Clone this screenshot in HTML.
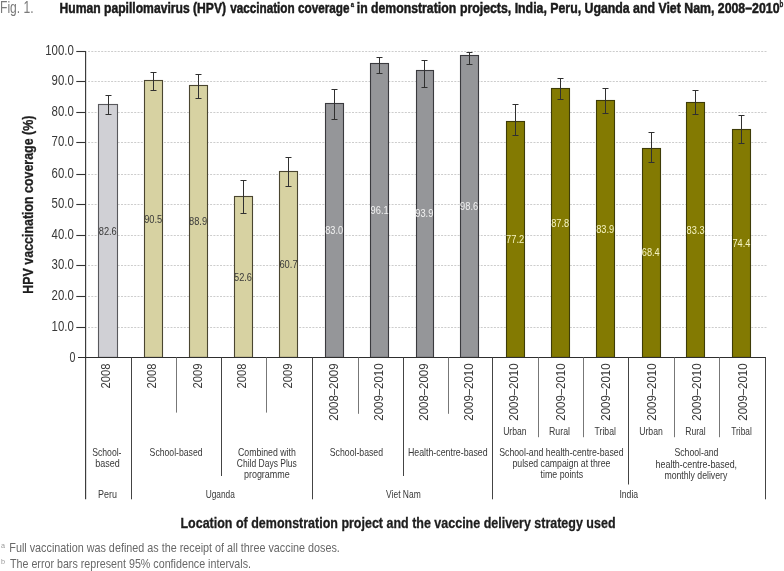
<!DOCTYPE html><html><head><meta charset="utf-8"><title>Fig. 1. HPV vaccination coverage</title><style>
html,body{margin:0;padding:0;background:#fff;width:784px;height:571px;overflow:hidden}
svg{display:block;will-change:transform}
text{font-family:'Liberation Sans', Arial, sans-serif}
</style></head><body>
<svg width="784" height="571" viewBox="0 0 784 571">
<rect width="784" height="571" fill="#fff"/>
<text x="0" y="12.5" font-size="16" fill="#7a7a7a" textLength="33.6" lengthAdjust="spacingAndGlyphs">Fig. 1.</text>
<text x="59.49" y="12.60" font-size="15.2" font-weight="bold" fill="#1a1a1a" stroke="#1a1a1a" stroke-width="0.5" textLength="166.62" lengthAdjust="spacingAndGlyphs">Human papillomavirus (HPV)</text>
<text x="230.15" y="12.60" font-size="15.2" font-weight="bold" fill="#1a1a1a" stroke="#1a1a1a" stroke-width="0.5" textLength="119.35" lengthAdjust="spacingAndGlyphs">vaccination coverage</text>
<text x="356.74" y="12.60" font-size="15.2" font-weight="bold" fill="#1a1a1a" stroke="#1a1a1a" stroke-width="0.5" textLength="99.42" lengthAdjust="spacingAndGlyphs">in demonstration</text>
<text x="459.89" y="12.60" font-size="15.2" font-weight="bold" fill="#1a1a1a" stroke="#1a1a1a" stroke-width="0.5" textLength="319.62" lengthAdjust="spacingAndGlyphs">projects, India, Peru, Uganda and Viet Nam, 2008–2010</text>
<text x="350.7" y="6.7" font-size="7.6" font-weight="bold" fill="#1a1a1a" stroke="#1a1a1a" stroke-width="0.3" textLength="3.3" lengthAdjust="spacingAndGlyphs">a</text>
<text x="779.6" y="6.8" font-size="8.6" font-weight="bold" fill="#1a1a1a" stroke="#1a1a1a" stroke-width="0.3" textLength="3.8" lengthAdjust="spacingAndGlyphs">b</text>
<line x1="88" y1="327.50" x2="767.6" y2="327.50" stroke="#cdcdcd" stroke-width="1" stroke-dasharray="2 1.3"/>
<line x1="88" y1="296.50" x2="767.6" y2="296.50" stroke="#cdcdcd" stroke-width="1" stroke-dasharray="2 1.3"/>
<line x1="88" y1="265.50" x2="767.6" y2="265.50" stroke="#cdcdcd" stroke-width="1" stroke-dasharray="2 1.3"/>
<line x1="88" y1="235.50" x2="767.6" y2="235.50" stroke="#cdcdcd" stroke-width="1" stroke-dasharray="2 1.3"/>
<line x1="88" y1="204.50" x2="767.6" y2="204.50" stroke="#cdcdcd" stroke-width="1" stroke-dasharray="2 1.3"/>
<line x1="88" y1="174.50" x2="767.6" y2="174.50" stroke="#cdcdcd" stroke-width="1" stroke-dasharray="2 1.3"/>
<line x1="88" y1="142.50" x2="767.6" y2="142.50" stroke="#cdcdcd" stroke-width="1" stroke-dasharray="2 1.3"/>
<line x1="88" y1="112.50" x2="767.6" y2="112.50" stroke="#cdcdcd" stroke-width="1" stroke-dasharray="2 1.3"/>
<line x1="88" y1="81.50" x2="767.6" y2="81.50" stroke="#cdcdcd" stroke-width="1" stroke-dasharray="2 1.3"/>
<line x1="88" y1="51.50" x2="767.6" y2="51.50" stroke="#cdcdcd" stroke-width="1" stroke-dasharray="2 1.3"/>
<line x1="76.3" y1="327.50" x2="86" y2="327.50" stroke="#333" stroke-width="1.1"/>
<text x="73.8" y="330.60" font-size="13.8" fill="#383838" text-anchor="end" textLength="22.2" lengthAdjust="spacingAndGlyphs">10.0</text>
<line x1="76.3" y1="296.50" x2="86" y2="296.50" stroke="#333" stroke-width="1.1"/>
<text x="73.8" y="299.60" font-size="13.8" fill="#383838" text-anchor="end" textLength="22.2" lengthAdjust="spacingAndGlyphs">20.0</text>
<line x1="76.3" y1="265.50" x2="86" y2="265.50" stroke="#333" stroke-width="1.1"/>
<text x="73.8" y="268.60" font-size="13.8" fill="#383838" text-anchor="end" textLength="22.2" lengthAdjust="spacingAndGlyphs">30.0</text>
<line x1="76.3" y1="235.50" x2="86" y2="235.50" stroke="#333" stroke-width="1.1"/>
<text x="73.8" y="238.60" font-size="13.8" fill="#383838" text-anchor="end" textLength="22.2" lengthAdjust="spacingAndGlyphs">40.0</text>
<line x1="76.3" y1="204.50" x2="86" y2="204.50" stroke="#333" stroke-width="1.1"/>
<text x="73.8" y="207.60" font-size="13.8" fill="#383838" text-anchor="end" textLength="22.2" lengthAdjust="spacingAndGlyphs">50.0</text>
<line x1="76.3" y1="174.50" x2="86" y2="174.50" stroke="#333" stroke-width="1.1"/>
<text x="73.8" y="177.60" font-size="13.8" fill="#383838" text-anchor="end" textLength="22.2" lengthAdjust="spacingAndGlyphs">60.0</text>
<line x1="76.3" y1="142.50" x2="86" y2="142.50" stroke="#333" stroke-width="1.1"/>
<text x="73.8" y="145.60" font-size="13.8" fill="#383838" text-anchor="end" textLength="22.2" lengthAdjust="spacingAndGlyphs">70.0</text>
<line x1="76.3" y1="112.50" x2="86" y2="112.50" stroke="#333" stroke-width="1.1"/>
<text x="73.8" y="115.60" font-size="13.8" fill="#383838" text-anchor="end" textLength="22.2" lengthAdjust="spacingAndGlyphs">80.0</text>
<line x1="76.3" y1="81.50" x2="86" y2="81.50" stroke="#333" stroke-width="1.1"/>
<text x="73.8" y="84.60" font-size="13.8" fill="#383838" text-anchor="end" textLength="22.2" lengthAdjust="spacingAndGlyphs">90.0</text>
<line x1="76.3" y1="51.50" x2="86" y2="51.50" stroke="#333" stroke-width="1.1"/>
<text x="73.8" y="54.60" font-size="13.8" fill="#383838" text-anchor="end" textLength="28.6" lengthAdjust="spacingAndGlyphs">100.0</text>
<text x="75.3" y="362.3" font-size="14.2" fill="#383838" text-anchor="end" textLength="5.9" lengthAdjust="spacingAndGlyphs">0</text>
<line x1="85.6" y1="51" x2="85.6" y2="499.3" stroke="#383838" stroke-width="1.15"/>
<rect x="98.50" y="104.50" width="19.00" height="252.90" fill="#d0d0d5" stroke="#58585c" stroke-width="1.10"/>
<rect x="144.50" y="80.50" width="18.00" height="276.90" fill="#d7d2a2" stroke="#4a4530" stroke-width="1.10"/>
<rect x="189.50" y="85.50" width="18.00" height="271.90" fill="#d7d2a2" stroke="#4a4530" stroke-width="1.10"/>
<rect x="234.50" y="196.50" width="18.00" height="160.90" fill="#d7d2a2" stroke="#4a4530" stroke-width="1.10"/>
<rect x="279.50" y="171.50" width="18.00" height="185.90" fill="#d7d2a2" stroke="#4a4530" stroke-width="1.10"/>
<rect x="325.50" y="103.50" width="18.00" height="253.90" fill="#959699" stroke="#3a3a3e" stroke-width="1.10"/>
<rect x="370.50" y="63.50" width="18.00" height="293.90" fill="#959699" stroke="#3a3a3e" stroke-width="1.10"/>
<rect x="416.50" y="70.50" width="17.00" height="286.90" fill="#959699" stroke="#3a3a3e" stroke-width="1.10"/>
<rect x="460.50" y="55.50" width="18.00" height="301.90" fill="#959699" stroke="#3a3a3e" stroke-width="1.10"/>
<rect x="506.50" y="121.50" width="18.00" height="235.90" fill="#837a02" stroke="#3e3c08" stroke-width="1.10"/>
<rect x="551.50" y="88.50" width="18.00" height="268.90" fill="#837a02" stroke="#3e3c08" stroke-width="1.10"/>
<rect x="596.50" y="100.50" width="18.00" height="256.90" fill="#837a02" stroke="#3e3c08" stroke-width="1.10"/>
<rect x="642.50" y="148.50" width="18.00" height="208.90" fill="#837a02" stroke="#3e3c08" stroke-width="1.10"/>
<rect x="686.50" y="102.50" width="18.00" height="254.90" fill="#837a02" stroke="#3e3c08" stroke-width="1.10"/>
<rect x="732.50" y="129.50" width="18.00" height="227.90" fill="#837a02" stroke="#3e3c08" stroke-width="1.10"/>
<text x="98.75" y="234.72" font-size="11.2" fill="#3a3a3a" textLength="18.01" lengthAdjust="spacingAndGlyphs">82.6</text>
<text x="144.17" y="222.63" font-size="11.2" fill="#3a3a3a" textLength="18.02" lengthAdjust="spacingAndGlyphs">90.5</text>
<text x="189.05" y="225.08" font-size="11.2" fill="#3a3a3a" textLength="18.04" lengthAdjust="spacingAndGlyphs">88.9</text>
<text x="234.03" y="280.62" font-size="11.2" fill="#3a3a3a" textLength="17.98" lengthAdjust="spacingAndGlyphs">52.6</text>
<text x="279.43" y="268.23" font-size="11.2" fill="#3a3a3a" textLength="18.14" lengthAdjust="spacingAndGlyphs">60.7</text>
<text x="325.15" y="234.11" font-size="11.2" fill="#f2f2f2" textLength="17.96" lengthAdjust="spacingAndGlyphs">83.0</text>
<text x="370.56" y="214.07" font-size="11.2" fill="#f2f2f2" textLength="18.09" lengthAdjust="spacingAndGlyphs">96.1</text>
<text x="415.26" y="217.43" font-size="11.2" fill="#f2f2f2" textLength="18.08" lengthAdjust="spacingAndGlyphs">93.9</text>
<text x="460.12" y="210.24" font-size="11.2" fill="#f2f2f2" textLength="18.04" lengthAdjust="spacingAndGlyphs">98.6</text>
<text x="506.02" y="242.98" font-size="11.2" fill="#f6f4c4" textLength="18.15" lengthAdjust="spacingAndGlyphs">77.2</text>
<text x="551.20" y="226.77" font-size="11.2" fill="#f6f4c4" textLength="18.00" lengthAdjust="spacingAndGlyphs">87.8</text>
<text x="596.15" y="232.73" font-size="11.2" fill="#f6f4c4" textLength="18.04" lengthAdjust="spacingAndGlyphs">83.9</text>
<text x="641.78" y="256.45" font-size="11.2" fill="#f6f4c4" textLength="17.94" lengthAdjust="spacingAndGlyphs">68.4</text>
<text x="686.60" y="233.65" font-size="11.2" fill="#f6f4c4" textLength="18.01" lengthAdjust="spacingAndGlyphs">83.3</text>
<text x="732.38" y="247.27" font-size="11.2" fill="#f6f4c4" textLength="17.94" lengthAdjust="spacingAndGlyphs">74.4</text>
<path d="M108.50 95.50V114.50M105.50 95.50H111.50M105.50 114.50H111.50" stroke="#303030" stroke-width="1" fill="none"/>
<path d="M153.50 72.50V90.50M150.50 72.50H156.50M150.50 90.50H156.50" stroke="#303030" stroke-width="1" fill="none"/>
<path d="M198.50 74.50V98.50M195.50 74.50H201.50M195.50 98.50H201.50" stroke="#303030" stroke-width="1" fill="none"/>
<path d="M243.50 180.50V213.50M240.50 180.50H246.50M240.50 213.50H246.50" stroke="#303030" stroke-width="1" fill="none"/>
<path d="M288.50 157.50V186.50M285.50 157.50H291.50M285.50 186.50H291.50" stroke="#303030" stroke-width="1" fill="none"/>
<path d="M334.50 89.50V119.50M331.50 89.50H337.50M331.50 119.50H337.50" stroke="#303030" stroke-width="1" fill="none"/>
<path d="M379.50 57.50V73.50M376.50 57.50H382.50M376.50 73.50H382.50" stroke="#303030" stroke-width="1" fill="none"/>
<path d="M424.50 60.50V87.50M421.50 60.50H427.50M421.50 87.50H427.50" stroke="#303030" stroke-width="1" fill="none"/>
<path d="M469.50 52.50V64.50M466.50 52.50H472.50M466.50 64.50H472.50" stroke="#303030" stroke-width="1" fill="none"/>
<path d="M515.50 104.50V135.50M512.50 104.50H518.50M512.50 135.50H518.50" stroke="#303030" stroke-width="1" fill="none"/>
<path d="M560.50 78.50V99.50M557.50 78.50H563.50M557.50 99.50H563.50" stroke="#303030" stroke-width="1" fill="none"/>
<path d="M605.50 88.50V113.50M602.50 88.50H608.50M602.50 113.50H608.50" stroke="#303030" stroke-width="1" fill="none"/>
<path d="M651.50 132.50V162.50M648.50 132.50H654.50M648.50 162.50H654.50" stroke="#303030" stroke-width="1" fill="none"/>
<path d="M695.50 90.50V114.50M692.50 90.50H698.50M692.50 114.50H698.50" stroke="#303030" stroke-width="1" fill="none"/>
<path d="M741.50 115.50V143.50M738.50 115.50H744.50M738.50 143.50H744.50" stroke="#303030" stroke-width="1" fill="none"/>
<line x1="78" y1="357.5" x2="766" y2="357.5" stroke="#2e2e2e" stroke-width="1.1"/>
<line x1="131.50" y1="357.50" x2="131.50" y2="499.30" stroke="#444" stroke-width="1.05"/>
<line x1="176.50" y1="357.50" x2="176.50" y2="412.60" stroke="#777" stroke-width="1.05"/>
<line x1="221.50" y1="357.50" x2="221.50" y2="476.00" stroke="#444" stroke-width="1.05"/>
<line x1="266.50" y1="357.50" x2="266.50" y2="412.60" stroke="#777" stroke-width="1.05"/>
<line x1="312.50" y1="357.50" x2="312.50" y2="499.30" stroke="#444" stroke-width="1.05"/>
<line x1="358.50" y1="357.50" x2="358.50" y2="413.80" stroke="#777" stroke-width="1.05"/>
<line x1="403.50" y1="357.50" x2="403.50" y2="476.00" stroke="#444" stroke-width="1.05"/>
<line x1="448.50" y1="357.50" x2="448.50" y2="413.80" stroke="#777" stroke-width="1.05"/>
<line x1="492.50" y1="357.50" x2="492.50" y2="499.30" stroke="#444" stroke-width="1.05"/>
<line x1="538.50" y1="357.50" x2="538.50" y2="437.20" stroke="#777" stroke-width="1.05"/>
<line x1="583.50" y1="357.50" x2="583.50" y2="437.20" stroke="#777" stroke-width="1.05"/>
<line x1="628.50" y1="357.50" x2="628.50" y2="484.50" stroke="#444" stroke-width="1.05"/>
<line x1="674.50" y1="357.50" x2="674.50" y2="437.20" stroke="#777" stroke-width="1.05"/>
<line x1="719.50" y1="357.50" x2="719.50" y2="437.20" stroke="#777" stroke-width="1.05"/>
<line x1="765.50" y1="357.50" x2="765.50" y2="499.30" stroke="#444" stroke-width="1.05"/>
<text transform="translate(110.30,363.5) rotate(-90)" x="0" y="0" font-size="13.2" fill="#383838" text-anchor="end" textLength="25.0" lengthAdjust="spacingAndGlyphs">2008</text>
<text transform="translate(156.10,363.5) rotate(-90)" x="0" y="0" font-size="13.2" fill="#383838" text-anchor="end" textLength="25.0" lengthAdjust="spacingAndGlyphs">2008</text>
<text transform="translate(201.50,363.5) rotate(-90)" x="0" y="0" font-size="13.2" fill="#383838" text-anchor="end" textLength="25.0" lengthAdjust="spacingAndGlyphs">2009</text>
<text transform="translate(246.40,363.5) rotate(-90)" x="0" y="0" font-size="13.2" fill="#383838" text-anchor="end" textLength="25.0" lengthAdjust="spacingAndGlyphs">2008</text>
<text transform="translate(292.00,363.5) rotate(-90)" x="0" y="0" font-size="13.2" fill="#383838" text-anchor="end" textLength="25.0" lengthAdjust="spacingAndGlyphs">2009</text>
<text transform="translate(338.05,363.5) rotate(-90)" x="0" y="0" font-size="13.2" fill="#383838" text-anchor="end" textLength="57.2" lengthAdjust="spacingAndGlyphs">2008–2009</text>
<text transform="translate(383.05,363.5) rotate(-90)" x="0" y="0" font-size="13.2" fill="#383838" text-anchor="end" textLength="57.2" lengthAdjust="spacingAndGlyphs">2009–2010</text>
<text transform="translate(428.05,363.5) rotate(-90)" x="0" y="0" font-size="13.2" fill="#383838" text-anchor="end" textLength="57.2" lengthAdjust="spacingAndGlyphs">2008–2009</text>
<text transform="translate(473.30,363.5) rotate(-90)" x="0" y="0" font-size="13.2" fill="#383838" text-anchor="end" textLength="57.2" lengthAdjust="spacingAndGlyphs">2009–2010</text>
<text transform="translate(518.35,363.5) rotate(-90)" x="0" y="0" font-size="13.2" fill="#383838" text-anchor="end" textLength="57.2" lengthAdjust="spacingAndGlyphs">2009–2010</text>
<text transform="translate(565.20,363.5) rotate(-90)" x="0" y="0" font-size="13.2" fill="#383838" text-anchor="end" textLength="57.2" lengthAdjust="spacingAndGlyphs">2009–2010</text>
<text transform="translate(610.35,363.5) rotate(-90)" x="0" y="0" font-size="13.2" fill="#383838" text-anchor="end" textLength="57.2" lengthAdjust="spacingAndGlyphs">2009–2010</text>
<text transform="translate(656.15,363.5) rotate(-90)" x="0" y="0" font-size="13.2" fill="#383838" text-anchor="end" textLength="57.2" lengthAdjust="spacingAndGlyphs">2009–2010</text>
<text transform="translate(700.70,363.5) rotate(-90)" x="0" y="0" font-size="13.2" fill="#383838" text-anchor="end" textLength="57.2" lengthAdjust="spacingAndGlyphs">2009–2010</text>
<text transform="translate(746.50,363.5) rotate(-90)" x="0" y="0" font-size="13.2" fill="#383838" text-anchor="end" textLength="57.2" lengthAdjust="spacingAndGlyphs">2009–2010</text>
<text x="503.14" y="434.90" font-size="11.4" fill="#383838" textLength="23.42" lengthAdjust="spacingAndGlyphs">Urban</text>
<text x="548.98" y="434.90" font-size="11.4" fill="#383838" textLength="21.01" lengthAdjust="spacingAndGlyphs">Rural</text>
<text x="594.61" y="434.90" font-size="11.4" fill="#383838" textLength="21.26" lengthAdjust="spacingAndGlyphs">Tribal</text>
<text x="639.23" y="434.90" font-size="11.4" fill="#383838" textLength="23.63" lengthAdjust="spacingAndGlyphs">Urban</text>
<text x="685.20" y="434.90" font-size="11.4" fill="#383838" textLength="20.48" lengthAdjust="spacingAndGlyphs">Rural</text>
<text x="731.32" y="434.90" font-size="11.4" fill="#383838" textLength="20.43" lengthAdjust="spacingAndGlyphs">Tribal</text>
<text x="92.21" y="455.80" font-size="11.4" fill="#383838" textLength="29.28" lengthAdjust="spacingAndGlyphs">School-</text>
<text x="95.32" y="466.90" font-size="11.4" fill="#383838" textLength="24.46" lengthAdjust="spacingAndGlyphs">based</text>
<text x="149.61" y="455.60" font-size="11.4" fill="#383838" textLength="52.95" lengthAdjust="spacingAndGlyphs">School-based</text>
<text x="237.96" y="455.80" font-size="11.4" fill="#383838" textLength="57.91" lengthAdjust="spacingAndGlyphs">Combined with</text>
<text x="236.87" y="467.00" font-size="11.4" fill="#383838" textLength="59.94" lengthAdjust="spacingAndGlyphs">Child Days Plus</text>
<text x="243.92" y="478.20" font-size="11.4" fill="#383838" textLength="45.88" lengthAdjust="spacingAndGlyphs">programme</text>
<text x="329.80" y="455.80" font-size="11.4" fill="#383838" textLength="53.26" lengthAdjust="spacingAndGlyphs">School-based</text>
<text x="407.88" y="455.80" font-size="11.4" fill="#383838" textLength="79.79" lengthAdjust="spacingAndGlyphs">Health-centre-based</text>
<text x="499.20" y="455.80" font-size="11.4" fill="#383838" textLength="124.36" lengthAdjust="spacingAndGlyphs">School-and health-centre-based</text>
<text x="512.44" y="467.10" font-size="11.4" fill="#383838" textLength="98.05" lengthAdjust="spacingAndGlyphs">pulsed campaign at three</text>
<text x="540.57" y="478.40" font-size="11.4" fill="#383838" textLength="42.55" lengthAdjust="spacingAndGlyphs">time points</text>
<text x="674.40" y="456.20" font-size="11.4" fill="#383838" textLength="44.06" lengthAdjust="spacingAndGlyphs">School-and</text>
<text x="655.58" y="467.50" font-size="11.4" fill="#383838" textLength="81.51" lengthAdjust="spacingAndGlyphs">health-centre-based,</text>
<text x="664.42" y="478.80" font-size="11.4" fill="#383838" textLength="62.90" lengthAdjust="spacingAndGlyphs">monthly delivery</text>
<text x="97.96" y="497.90" font-size="11.4" fill="#383838" textLength="18.93" lengthAdjust="spacingAndGlyphs">Peru</text>
<text x="205.66" y="497.60" font-size="11.4" fill="#383838" textLength="29.24" lengthAdjust="spacingAndGlyphs">Uganda</text>
<text x="386.06" y="497.90" font-size="11.4" fill="#383838" textLength="34.69" lengthAdjust="spacingAndGlyphs">Viet Nam</text>
<text x="619.40" y="497.70" font-size="11.4" fill="#383838" textLength="18.70" lengthAdjust="spacingAndGlyphs">India</text>
<text x="180.46" y="527.80" font-size="15.0" fill="#1e1e1e" textLength="435.06" lengthAdjust="spacingAndGlyphs" font-weight="bold" stroke="#1e1e1e" stroke-width="0.3">Location of demonstration project and the vaccine delivery strategy used</text>
<text transform="translate(32.7,292.8) rotate(-90)" x="-0.83" y="0" font-size="15.2" font-weight="bold" fill="#1e1e1e" stroke="#1e1e1e" stroke-width="0.3" textLength="177.95" lengthAdjust="spacingAndGlyphs">HPV vaccination coverage (%)</text>
<text x="0.9" y="547.9" font-size="7.2" fill="#9a9a9a">a</text>
<text x="9.31" y="551.90" font-size="13.3" fill="#686868" textLength="330.57" lengthAdjust="spacingAndGlyphs">Full vaccination was defined as the receipt of all three vaccine doses.</text>
<text x="0.9" y="563.5" font-size="7.2" fill="#9a9a9a">b</text>
<text x="9.96" y="567.80" font-size="13.3" fill="#686868" textLength="241.02" lengthAdjust="spacingAndGlyphs">The error bars represent 95% confidence intervals.</text>
</svg></body></html>
